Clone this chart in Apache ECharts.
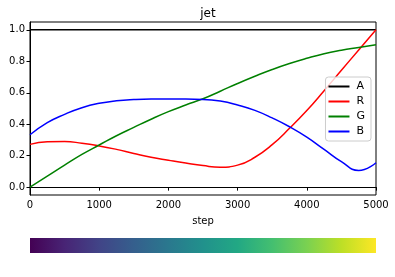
<!DOCTYPE html>
<html><head><meta charset="utf-8">
<script src="https://cdn.jsdelivr.net/npm/echarts@6/dist/echarts.min.js"></script>
<style>html,body{margin:0;padding:0;background:#fff}#c{width:395px;height:277px}</style>
</head><body><div id="c"></div>
<script>
const steps = [0,250,500,750,1000,1250,1500,1750,2000,2250,2500,2750,3000,3250,3500,3750,4000,4250,4500,4750,5000];
const A = [1,1,1,1,1,1,1,1,1,1,1,1,1,1,1,1,1,1,1,1,1];
const R = [0.272,0.288,0.29,0.279,0.262,0.24,0.214,0.19,0.171,0.153,0.137,0.127,0.14,0.19,0.27,0.374,0.487,0.613,0.743,0.872,1.0];
const G = [0.0,0.07,0.14,0.208,0.268,0.327,0.38,0.432,0.48,0.522,0.562,0.61,0.659,0.705,0.748,0.786,0.819,0.848,0.87,0.888,0.906];
const B = [0.333,0.41,0.463,0.505,0.533,0.549,0.557,0.56,0.56,0.56,0.558,0.547,0.522,0.488,0.44,0.384,0.318,0.24,0.162,0.106,0.155];
const yTicks = [0,0.2,0.4,0.6,0.8,1.0];
const viridis = ['#440154','#482475','#414487','#355f8d','#2a788e','#21918c','#22a884','#44bf70','#7ad151','#bddf26','#fde725'];

const font = 'DejaVu Sans';
const pair = a => a.map((v,i)=>[steps[i], v]);
const mk = (name, data, color) => ({
  name, type:'line', data: pair(data), smooth:0.5, symbol:'none',
  lineStyle:{color, width:1.5}, itemStyle:{color}, xAxisIndex:0, yAxisIndex:0, z:2
});

const chart = echarts.init(document.getElementById('c'), null, {renderer:'canvas'});
chart.setOption({
  animation:false,
  backgroundColor:'#fff',
  title:{text:'jet', left:203, textAlign:'center', top:3, textStyle:{fontFamily:font, fontSize:12, fontWeight:'normal', color:'#000'}},
  legend:{
    data:['A','R','G','B'], orient:'vertical', right:24, top:77,
    icon:'rect', itemWidth:21, itemHeight:2, itemGap:4,
    backgroundColor:'rgba(255,255,255,0.8)', borderColor:'#ccc', borderWidth:1, borderRadius:3,
    padding:[4,6,4,3],
    textStyle:{fontFamily:font, fontSize:11, color:'#000', padding:[0,0,0,2]}
  },
  grid:[
    {left:30, right:19, top:22, bottom:82, show:true, borderColor:'#000', borderWidth:1, containLabel:false},
    {left:30, right:19, top:238, height:15, show:false}
  ],
  xAxis:[
    {type:'value', gridIndex:0, min:0, max:5000, interval:1000, name:'step', nameLocation:'middle', nameGap:21,
     nameTextStyle:{fontFamily:font, fontSize:10, color:'#000'},
     axisLine:{show:true, lineStyle:{color:'#000'}}, axisTick:{show:true, length:3.5, lineStyle:{color:'#000'}},
     axisLabel:{fontFamily:font, fontSize:10, color:'#000', margin:5, formatter:v=>String(v)}, splitLine:{show:false}},
    {type:'value', gridIndex:1, min:0, max:1, show:false}
  ],
  yAxis:[
    {type:'value', gridIndex:0, min:-0.05, max:1.05,
     axisLine:{show:true, lineStyle:{color:'#000'}},
     axisTick:{show:true, length:3.5, lineStyle:{color:'#000'}, customValues:yTicks},
     axisLabel:{fontFamily:font, fontSize:10, color:'#000', margin:5, customValues:yTicks, formatter:v=>v.toFixed(1)},
     splitLine:{show:false}},
    {type:'category', gridIndex:1, data:['c'], show:false}
  ],
  series:[
    mk('A', A, '#000000'),
    mk('R', R, '#ff0000'),
    mk('G', G, '#008000'),
    mk('B', B, '#0000ff'),
    {type:'bar', xAxisIndex:1, yAxisIndex:1, data:[1], barWidth:'100%', silent:true,
     itemStyle:{color:new echarts.graphic.LinearGradient(0,0,1,0, viridis.map((c,i)=>({offset:i/(viridis.length-1), color:c})))}}
  ]
});
</script></body></html>
